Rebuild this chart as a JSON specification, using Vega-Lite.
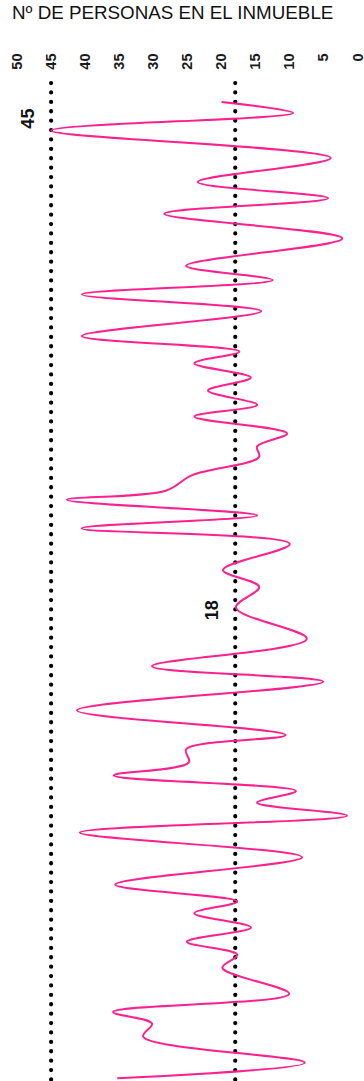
{
  "$schema": "https://vega.github.io/schema/vega-lite/v6.json",
  "width": 341,
  "height": 998,
  "autosize": {"type": "none"},
  "padding": {"left": 17, "top": 83, "right": 6, "bottom": 0},
  "background": "white",
  "config": {"view": {"stroke": null}, "font": "Liberation Sans"},
  "title": {
    "text": "Nº DE PERSONAS EN EL INMUEBLE",
    "anchor": "start",
    "frame": "group",
    "dx": -5,
    "offset": 30,
    "fontSize": 18.8,
    "fontWeight": "normal",
    "color": "#111111",
    "font": "Liberation Sans"
  },
  "datasets": {
    "series": [
      {"t": 0.0, "v": 20.0}, {"t": 0.85, "v": 9.5}, {"t": 2.2, "v": 45.0}, {"t": 4.3, "v": 4.0},
      {"t": 6.15, "v": 23.5}, {"t": 7.4, "v": 4.4}, {"t": 8.6, "v": 28.4}, {"t": 10.5, "v": 2.3},
      {"t": 12.6, "v": 25.2}, {"t": 13.7, "v": 12.5}, {"t": 14.8, "v": 40.5}, {"t": 16.1, "v": 14.2},
      {"t": 18.0, "v": 40.5}, {"t": 19.2, "v": 17.4}, {"t": 20.1, "v": 24.0}, {"t": 21.2, "v": 15.7},
      {"t": 22.2, "v": 22.0}, {"t": 23.3, "v": 14.8}, {"t": 24.2, "v": 24.0}, {"t": 25.5, "v": 10.4},
      {"t": 26.5, "v": 14.8}, {"t": 27.3, "v": 14.5}, {"t": 28.7, "v": 24.3}, {"t": 29.9, "v": 28.2},
      {"t": 30.6, "v": 42.7}, {"t": 31.8, "v": 14.8}, {"t": 32.8, "v": 40.5}, {"t": 34.0, "v": 10.0},
      {"t": 36.0, "v": 19.8}, {"t": 37.3, "v": 14.5}, {"t": 38.9, "v": 17.9}, {"t": 41.3, "v": 7.5},
      {"t": 43.4, "v": 30.2}, {"t": 44.6, "v": 5.1}, {"t": 46.8, "v": 41.2}, {"t": 48.7, "v": 10.6},
      {"t": 49.8, "v": 25.2}, {"t": 50.8, "v": 24.8}, {"t": 51.8, "v": 35.8}, {"t": 53.0, "v": 9.1},
      {"t": 53.9, "v": 14.8}, {"t": 54.9, "v": 1.6}, {"t": 56.2, "v": 40.8}, {"t": 58.1, "v": 8.2},
      {"t": 60.2, "v": 35.6}, {"t": 61.5, "v": 17.7}, {"t": 62.4, "v": 24.0}, {"t": 63.5, "v": 15.7},
      {"t": 64.6, "v": 25.1}, {"t": 65.6, "v": 17.7}, {"t": 66.6, "v": 19.9}, {"t": 68.6, "v": 10.1},
      {"t": 70.0, "v": 35.9}, {"t": 70.9, "v": 30.2}, {"t": 71.9, "v": 31.5}, {"t": 73.9, "v": 7.8},
      {"t": 75.1, "v": 35.3}
    ],
    "refs": [
      {"v": 45, "t": 1.28, "label": "45"},
      {"v": 18, "t": 39.1, "label": "18"}
    ]
  },
  "encoding": {
    "x": {
      "field": "v", "type": "quantitative",
      "scale": {"domain": [0, 50], "reverse": true, "nice": false, "zero": false},
      "axis": {
        "orient": "top", "values": [0, 5, 10, 15, 20, 25, 30, 35, 40, 45, 50],
        "labelAngle": -90, "labelAlign": "right", "labelBaseline": "middle",
        "labelPadding": 30, "tickSize": 0, "ticks": false, "domain": false, "grid": false,
        "labelOverlap": false, "labelFlush": false, "labelBound": false,
        "title": null, "labelFontSize": 14.5, "labelFontWeight": "bold", "labelColor": "#1a1a1a",
        "labelFont": "Liberation Sans"
      }
    }
  },
  "layer": [
    {
      "data": {"name": "refs"},
      "mark": {"type": "rule", "color": "black", "strokeWidth": 4.2, "strokeCap": "round", "strokeDash": [0.1, 9.3]},
      "encoding": {}
    },
    {
      "data": {"name": "series"},
      "mark": {"type": "line", "interpolate": "catmull-rom", "color": "#ff1f8e", "strokeWidth": 2},
      "encoding": {
        "y": {"field": "t", "type": "quantitative", "scale": {"domain": [-1.46, 75.31], "nice": false, "zero": false, "reverse": true}, "axis": null},
        "order": {"field": "t", "type": "quantitative"}
      }
    },
    {
      "data": {"name": "refs"},
      "mark": {"type": "text", "angle": -90, "fontSize": 18, "fontWeight": "bold", "align": "center", "baseline": "middle", "xOffset": -22, "color": "#111111", "font": "Liberation Sans"},
      "encoding": {
        "y": {"field": "t", "type": "quantitative", "scale": {"domain": [-1.46, 75.31], "nice": false, "zero": false, "reverse": true}, "axis": null},
        "text": {"field": "label"}
      }
    }
  ]
}
